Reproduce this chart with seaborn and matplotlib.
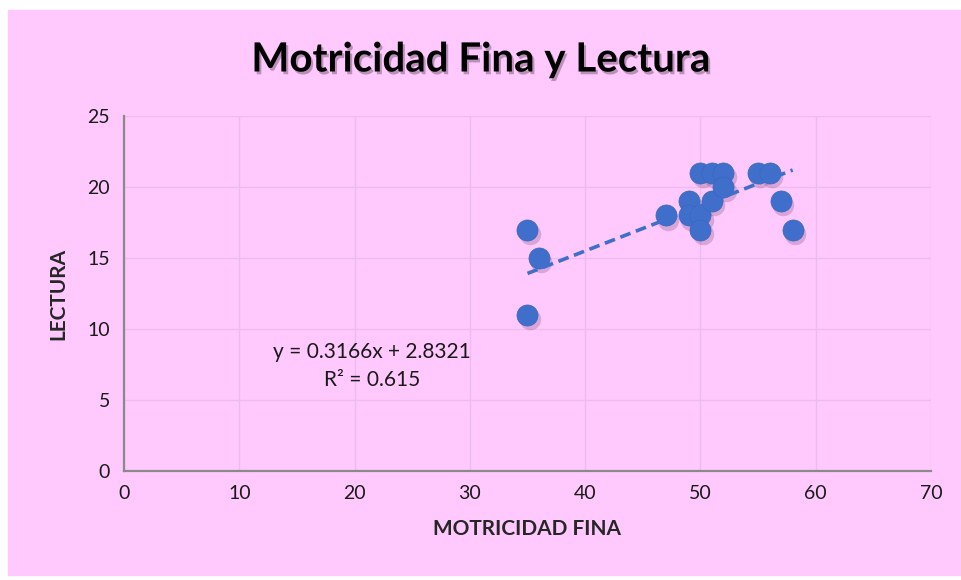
import numpy as np
import pandas as pd
import matplotlib
matplotlib.use('Agg')
import matplotlib.pyplot as plt
import matplotlib.patheffects as pe
import seaborn as sbn

# data
motricidad = [35, 35, 36, 47, 49, 49, 50, 50, 50, 51, 51, 52, 52, 55, 56, 57, 58]
lectura = [17, 11, 15, 18, 19, 18, 18, 17, 21, 21, 19, 21, 20, 21, 21, 19, 17]
slope, intercept = 0.3166, 2.8321
r2 = 0.615
x_ticks = [0, 10, 20, 30, 40, 50, 60, 70]
y_ticks = [0, 5, 10, 15, 20, 25]

df = pd.DataFrame({'MOTRICIDAD FINA': motricidad, 'LECTURA': lectura})

sbn.set_style('white')
plt.rcParams['font.family'] = ['Lato', 'DejaVu Sans']

pink = '#FFC9FD'
fig = plt.figure(figsize=(9.62, 5.80), dpi=100, facecolor='white')
fig.patches.append(plt.Rectangle((8 / 962, 5 / 580), 954 / 962, 565 / 580,
                                 transform=fig.transFigure, color=pink, zorder=-10))
ax = fig.add_axes([124 / 962, 1 - 471 / 580, 807 / 962, 355 / 580])
ax.set_facecolor(pink)

# shadow under the markers
ax.scatter(np.array(motricidad) + 0.2, np.array(lectura) - 0.3, s=240,
           color='#6a3a6a', alpha=0.25, linewidths=0, zorder=2)
sbn.scatterplot(data=df, x='MOTRICIDAD FINA', y='LECTURA', ax=ax, s=230,
                color='#3f6fcb', edgecolor='#3a66bd', linewidth=0.5, zorder=3)

# linear trend line (Excel style)
xs = np.array([min(motricidad), max(motricidad)])
ax.plot(xs, slope * xs + intercept, ls=(0, (3, 1.6)), color='#3f6fcb', lw=2.6, zorder=4)

ax.text(21.5, 8.4, f'y = {slope}x + {intercept}', ha='center', va='center', fontsize=15, color='#1a1a1a')
ax.text(21.5, 6.4, f'R² = {r2}', ha='center', va='center', fontsize=15, color='#1a1a1a')

ax.set_xlim(0, 70)
ax.set_ylim(0, 25)
ax.set_xticks(x_ticks)
ax.set_yticks(y_ticks)
ax.grid(True, color='#ecbcee', lw=1)
ax.tick_params(length=0, labelsize=14, pad=10, colors='#1a1a1a')
for s in ['top', 'right']:
    ax.spines[s].set_visible(False)
for s in ['left', 'bottom']:
    ax.spines[s].set_color('#8a8a8a')
    ax.spines[s].set_linewidth(1.6)

ax.set_xlabel('MOTRICIDAD FINA', fontsize=15, fontweight='bold', labelpad=12)
ax.set_ylabel('LECTURA', fontsize=15, fontweight='bold', labelpad=14)

fig.text(0.5, 1 - 60 / 580, 'Motricidad Fina y Lectura', ha='center', va='center',
         fontsize=29, fontweight='bold', color='black',
         path_effects=[pe.withSimplePatchShadow(offset=(1.5, -2), shadow_rgbFace='#6a4a6a', alpha=0.45)])

fig.savefig('out.png', dpi=100, facecolor='white')
